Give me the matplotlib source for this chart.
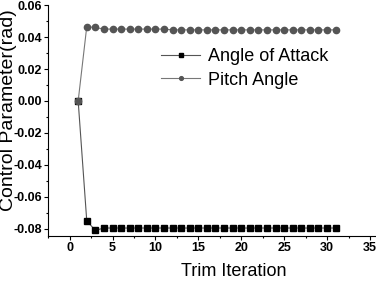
import matplotlib
matplotlib.use('Agg')
import matplotlib.pyplot as plt
from matplotlib.ticker import MultipleLocator

# trim iteration data
iterations = list(range(1, 32))
angle_of_attack = [0.0, -0.075, -0.081] + [-0.0795] * 28
pitch_angle = [0.0, 0.0465, 0.046] + [0.045] * 8 + [0.0445] * 20

plt.rcParams['font.family'] = ['Liberation Sans', 'DejaVu Sans']

fig = plt.figure(figsize=(3.76, 2.84), dpi=100)
ax = fig.add_axes([0.128, 0.169, 0.872, 0.813])

ax.plot(iterations, angle_of_attack, color='#555555', lw=0.8, marker='s',
        ms=4.5, mfc='black', mec='black', label='Angle of Attack')
ax.plot(iterations, pitch_angle, color='#777777', lw=0.8, marker='o',
        ms=4.5, mfc='#555555', mec='#555555', label='Pitch Angle')

ax.set_xlim(-2.5, 35.7)
ax.set_ylim(-0.0845, 0.06)
ax.xaxis.set_major_locator(MultipleLocator(5))
ax.xaxis.set_minor_locator(MultipleLocator(2.5))
ax.yaxis.set_major_locator(MultipleLocator(0.02))
ax.yaxis.set_minor_locator(MultipleLocator(0.01))
ax.set_xticks([0, 5, 10, 15, 20, 25, 30, 35])
ax.yaxis.set_major_formatter(plt.FormatStrFormatter('%.2f'))

for s in ['top', 'right']:
    ax.spines[s].set_visible(False)
ax.tick_params(which='major', direction='out', length=3, width=0.8, labelsize=9, pad=1.5)
ax.tick_params(which='minor', direction='out', length=1.5, width=0.8)
for lab in ax.get_xticklabels() + ax.get_yticklabels():
    lab.set_fontweight('bold')

ax.set_xlabel('Trim Iteration', fontsize=13)
ax.xaxis.set_label_coords(0.565, -0.118)
ax.set_ylabel('Control Parameter(rad)', fontsize=14)
ax.yaxis.set_label_coords(-0.095, 0.545)

leg = ax.legend(loc='upper left', bbox_to_anchor=(0.316, 0.852), frameon=False,
                fontsize=13, handlelength=2.2, handletextpad=0.4,
                labelspacing=0.35, borderpad=0, markerscale=0.6)

fig.savefig('out.png', dpi=100)
